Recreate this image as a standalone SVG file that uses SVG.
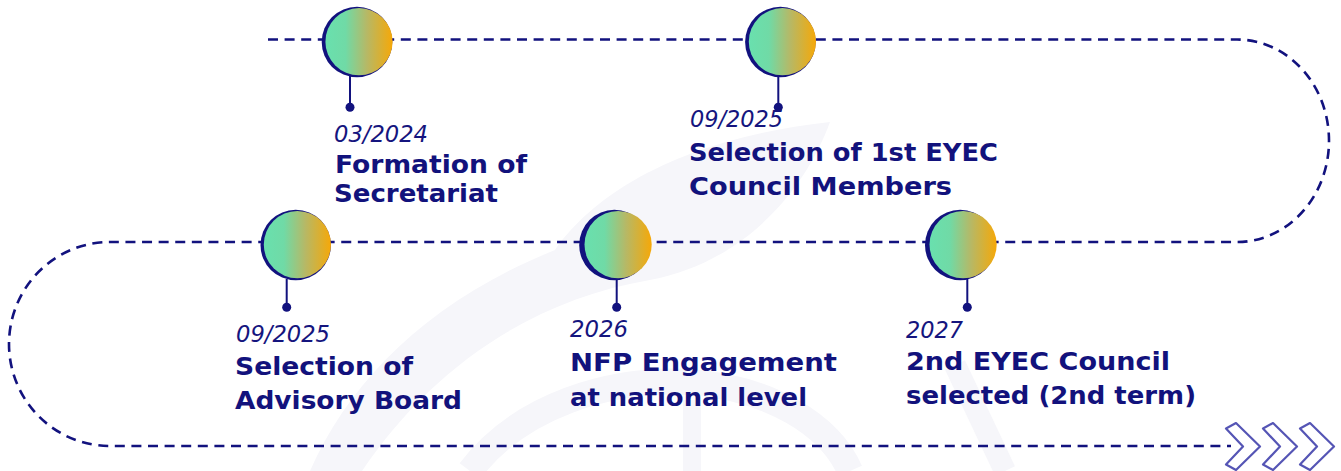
<svg xmlns="http://www.w3.org/2000/svg" width="1341" height="471" viewBox="0 0 1341 471">
<defs>
<linearGradient id="g" x1="0" y1="0" x2="1" y2="0">
<stop offset="0" stop-color="#69e0ae"/>
<stop offset="0.3" stop-color="#70daa6"/>
<stop offset="0.62" stop-color="#b7b865"/>
<stop offset="1" stop-color="#f6a808"/>
</linearGradient>
<style>
.ring{fill:#12127e}
.ball{fill:url(#g)}
.stem{stroke:#12127e;stroke-width:2;fill:none}
.dot{fill:#12127e}
.date{font-family:"DejaVu Sans","Liberation Sans",sans-serif;font-style:italic;font-weight:400;font-size:23px;fill:#15157e}
.title{font-family:"DejaVu Sans","Liberation Sans",sans-serif;font-weight:700;font-size:25px;fill:#12127c}
.track{fill:none;stroke:#12127e;stroke-width:2.6;stroke-dasharray:10 6.6}
.chev{fill:none;stroke:#5555b5;stroke-width:2.2;stroke-linejoin:round}
.wm{fill:#f6f6fa}
.wms{fill:none;stroke:#f6f6fa}
</style>
</defs>
<rect width="1341" height="471" fill="#ffffff"/>
<g id="watermark">
<path class="wm" d="M310 471 C350 380 430 300 555 250 C590 200 670 140 830 122 C805 190 745 262 650 280 C530 300 430 370 362 471 Z"/>
<path class="wms" stroke-width="26" d="M470 471 C520 405 610 378 690 382 C770 388 830 425 850 471"/>
<path class="wms" stroke-width="18" d="M692 400 L692 471"/>
<path class="wms" stroke-width="22" d="M955 365 L1005 471"/>
</g>
<g id="connectors">
<path class="track" d="M268 39.5 H1237 A92 101.25 0 0 1 1237 242 H110 A101 102 0 0 0 110 446 H1231"/>
<g id="chevrons">
<polygon class="chev" points="1226,428.5 1236,423 1260,446.5 1236,470 1226,464.5 1243,446.5"/>
<polygon class="chev" points="1263,428.5 1273,423 1297,446.5 1273,470 1263,464.5 1280,446.5"/>
<polygon class="chev" points="1300,428.5 1310,423 1334,446.5 1310,470 1300,464.5 1317,446.5"/>
</g>
</g>
<g id="node1">
<line class="stem" x1="350" y1="76" x2="350" y2="107"/>
<circle class="dot" cx="350" cy="107.3" r="4.5"/>
<circle class="ring" cx="357" cy="42" r="35.3"/>
<circle class="ball" cx="359" cy="41.7" r="33.6"/>
<text class="date" x="334" y="142" textLength="94" lengthAdjust="spacingAndGlyphs">03/2024</text>
<text class="title" x="335" y="173" textLength="192" lengthAdjust="spacingAndGlyphs">Formation of</text>
<text class="title" x="334" y="202.3" textLength="164" lengthAdjust="spacingAndGlyphs">Secretariat</text>
</g>
<g id="node2">
<line class="stem" x1="778.3" y1="76" x2="778.3" y2="107"/>
<circle class="dot" cx="778.3" cy="107.3" r="4.5"/>
<circle class="ring" cx="780.4" cy="42" r="35.3"/>
<circle class="ball" cx="782.4" cy="41.7" r="33.6"/>
<text class="date" x="690" y="127" textLength="93" lengthAdjust="spacingAndGlyphs">09/2025</text>
<text class="title" x="689" y="161" textLength="309" lengthAdjust="spacingAndGlyphs">Selection of 1st EYEC</text>
<text class="title" x="689" y="195" textLength="263" lengthAdjust="spacingAndGlyphs">Council Members</text>
</g>
<g id="node3">
<line class="stem" x1="286.7" y1="279" x2="286.7" y2="307"/>
<circle class="dot" cx="286.7" cy="307.3" r="4.5"/>
<circle class="ring" cx="295.7" cy="245" r="35.2"/>
<circle class="ball" cx="297.4" cy="244.6" r="33.6"/>
<text class="date" x="236" y="341.5" textLength="94" lengthAdjust="spacingAndGlyphs">09/2025</text>
<text class="title" x="235" y="375" textLength="178" lengthAdjust="spacingAndGlyphs">Selection of</text>
<text class="title" x="235" y="408.5" textLength="227" lengthAdjust="spacingAndGlyphs">Advisory Board</text>
</g>
<g id="node4">
<line class="stem" x1="616.7" y1="279" x2="616.7" y2="307"/>
<circle class="dot" cx="616.7" cy="307.3" r="4.5"/>
<circle class="ring" cx="614.4" cy="245" r="35.2"/>
<circle class="ball" cx="618.1" cy="244.6" r="33.6"/>
<text class="date" x="570" y="337" textLength="58" lengthAdjust="spacingAndGlyphs">2026</text>
<text class="title" x="570" y="371" textLength="267" lengthAdjust="spacingAndGlyphs">NFP Engagement</text>
<text class="title" x="570" y="405.5" textLength="237" lengthAdjust="spacingAndGlyphs">at national level</text>
</g>
<g id="node5">
<line class="stem" x1="967.3" y1="279" x2="967.3" y2="307"/>
<circle class="dot" cx="967.3" cy="307.3" r="4.5"/>
<circle class="ring" cx="960.2" cy="245" r="35.2"/>
<circle class="ball" cx="963.1" cy="244.6" r="33.6"/>
<text class="date" x="906" y="338" textLength="57" lengthAdjust="spacingAndGlyphs">2027</text>
<text class="title" x="906" y="370" textLength="264" lengthAdjust="spacingAndGlyphs">2nd EYEC Council</text>
<text class="title" x="906" y="404" textLength="290" lengthAdjust="spacingAndGlyphs">selected (2nd term)</text>
</g>
</svg>
